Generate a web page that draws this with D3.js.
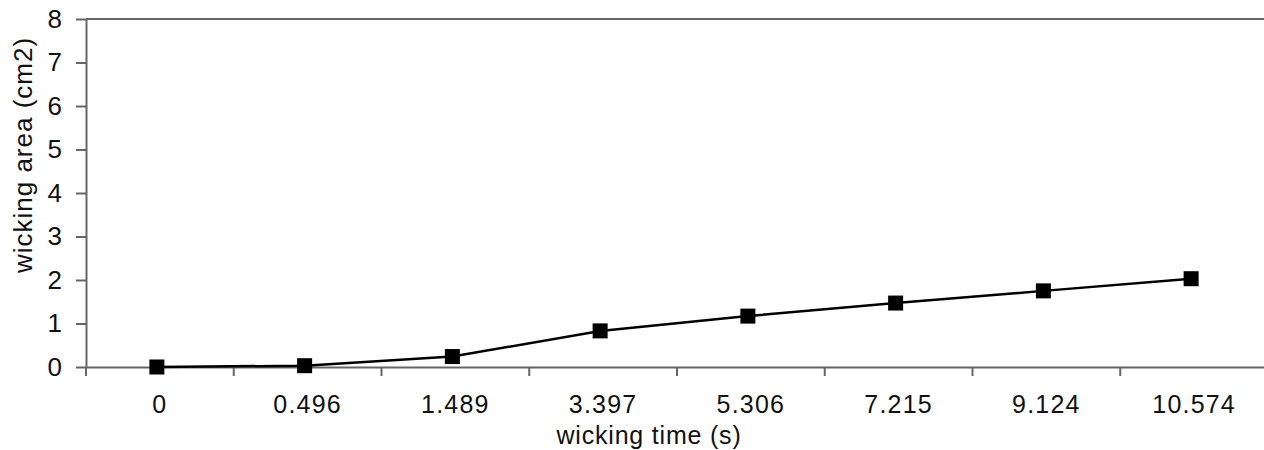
<!DOCTYPE html>
<html>
<head>
<meta charset="utf-8">
<script src="https://cdn.jsdelivr.net/npm/d3@7"></script>
<style>
  body { margin: 0; background: #fff; }
  text { font-family: "Liberation Sans", Arial, sans-serif; fill: #111; }
</style>
</head>
<body>
<script>
const times = ['0', '0.496', '1.489', '3.397', '5.306', '7.215', '9.124', '10.574'];
const areas = [0.0, 0.03, 0.24, 0.83, 1.17, 1.47, 1.75, 2.03];
const yTicks = [0, 1, 2, 3, 4, 5, 6, 7, 8];

const width = 1264, height = 450;
const margin = { top: 19, right: -4, bottom: 83, left: 86 };

const svg = d3.select('body').append('svg')
  .attr('width', width)
  .attr('height', height);

const x = d3.scaleBand()
  .domain(times)
  .range([margin.left, width - margin.right]);

const y = d3.scaleLinear()
  .domain([0, 8])
  .range([height - margin.bottom, margin.top]);

const axisColor = '#666';

// top border
svg.append('line')
  .attr('x1', margin.left).attr('x2', width)
  .attr('y1', y(8)).attr('y2', y(8))
  .attr('stroke', axisColor).attr('stroke-width', 2);

// y axis
const yAxis = svg.append('g')
  .attr('transform', `translate(${margin.left},0)`)
  .call(d3.axisLeft(y).tickValues(yTicks).tickSize(10).tickPadding(14).tickSizeOuter(0));
yAxis.selectAll('text').style('font-size', '26px');

// x axis
const xAxis = svg.append('g')
  .attr('transform', `translate(0,${y(0)})`)
  .call(d3.axisBottom(x).tickSize(0).tickPadding(28).tickSizeOuter(0));
xAxis.selectAll('text')
  .style('font-size', '25px')
  .style('letter-spacing', '1.2px');

// x ticks on band boundaries
xAxis.selectAll('.bound')
  .data(times)
  .join('line')
  .attr('class', 'bound')
  .attr('x1', d => x(d)).attr('x2', d => x(d))
  .attr('y1', 0).attr('y2', 9)
  .attr('stroke', axisColor).attr('stroke-width', 2);

svg.selectAll('.domain, .tick line')
  .attr('stroke', axisColor).attr('stroke-width', 2);

// titles
svg.append('text')
  .attr('x', 649).attr('y', 444)
  .attr('text-anchor', 'middle')
  .style('font-size', '25px')
  .style('letter-spacing', '0.8px')
  .text('wicking time (s)');

svg.append('text')
  .attr('transform', `translate(32,${155}) rotate(-90)`)
  .attr('text-anchor', 'middle')
  .style('font-size', '26px')
  .style('letter-spacing', '1px')
  .text('wicking area (cm2)');

// series
const pts = times.map((t, i) => ({ t, v: areas[i] }));
const cx = d => x(d.t) + x.bandwidth() / 2 - 3;

svg.append('path')
  .datum(pts)
  .attr('fill', 'none')
  .attr('stroke', '#000')
  .attr('stroke-width', 2.5)
  .attr('d', d3.line().x(cx).y(d => y(d.v)));

const s = 15;
svg.selectAll('.marker')
  .data(pts)
  .join('rect')
  .attr('class', 'marker')
  .attr('x', d => cx(d) - s / 2)
  .attr('y', d => y(d.v) - s / 2)
  .attr('width', s).attr('height', s)
  .attr('fill', '#000');
</script>
</body>
</html>
